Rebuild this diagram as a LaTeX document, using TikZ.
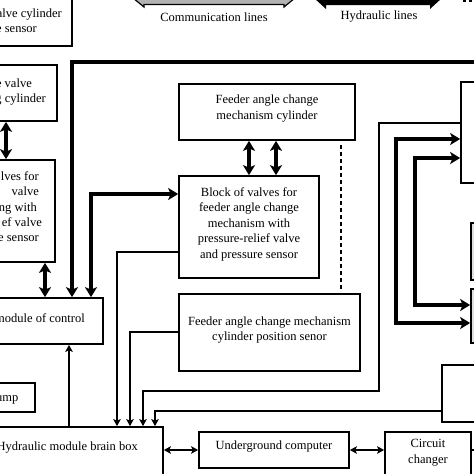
\documentclass[tikz,border=0pt]{standalone}
\usepackage{fontspec}
\setmainfont{Liberation Serif}
\usetikzlibrary{arrows.meta}
\newcommand\fz{\fontsize{12.5}{15.5}\selectfont}
\tikzset{
  hA/.tip={Stealth[length=10pt,width=12pt,inset=2.5pt]},
  tA/.tip={Stealth[length=7pt,width=7.5pt,inset=1.5pt]},
  box/.style={draw, line width=1.7pt, inner sep=0pt},
  gbox/.style={box, fill=gray!25},
  lbl/.style={font=\fz, align=center, inner sep=0pt},
  lblE/.style={lbl, anchor=base east},
  thk/.style={line width=3.4pt},
  thn/.style={line width=1.5pt},
}
\begin{document}
\begin{tikzpicture}[x=1pt,y=-1pt]
\useasboundingbox (0,0) rectangle (474,474);
\clip (0,0) rectangle (474,474);
% legend
\filldraw[fill=gray!60, draw=black, line width=1.2pt]
  (133,-2) -- (144,-11) -- (144,-8.5) -- (284,-8.5) -- (284,-11) -- (295,-2)
  -- (284,7) -- (284,4.5) -- (144,4.5) -- (144,7) -- cycle;
\node[lbl] (legC) at (214,17) {Communication lines};
\fill (314,-2) -- (326,-13) -- (326,-9) -- (430,-9) -- (430,-13) -- (442,-2)
  -- (430,9) -- (430,5) -- (326,5) -- (326,9) -- cycle;
\node[lbl] (legH) at (379,17) {Hydraulic lines};
\draw[line width=6pt, dash pattern=on 3pt off 2.5pt] (463,-1) -- (485,-1);

% boxes
\node[box, minimum width=152pt, minimum height=76pt] (b1) at (-4,8) {};
\node[lblE] at (62,17) {valve cylinder};
\node[lblE] at (37,32) {e sensor};

\node[box, minimum width=137pt, minimum height=56pt] (b4) at (-11.5,93) {};
\node[lblE] at (32,87) {e valve};
\node[lblE] at (46,102) {g cylinder};

\node[box, minimum width=135pt, minimum height=102pt] (b6) at (-12.5,211) {};
\node[lblE] at (39,180) {lves for};
\node[lblE] at (39,195) {valve};
\node[lblE] at (37,211) {ng with};
\node[lblE] at (42,226) {ef valve};
\node[lblE] at (39,241) {e sensor};

\node[box, minimum width=183pt, minimum height=46pt] (ctrl) at (11.5,321) {};
\node[lblE] at (85,322) {module of control};

\node[box, minimum width=75pt, minimum height=29pt] (pump) at (-2.5,397.5) {};
\node[lblE] at (18.5,401) {ump};

\node[box, minimum width=223pt, minimum height=63pt] (brain) at (51.5,458.5) {};
\node[lblE] at (138,450) {Hydraulic module brain box};

\node[box, minimum width=176pt, minimum height=56pt] (b9) at (267,112) {};
\node[lbl] at (267,108.5) {Feeder angle change\\mechanism cylinder};

\node[box, minimum width=140pt, minimum height=102pt] (b11) at (249,227) {};
\node[lbl] at (249,224) {Block of valves for\\feeder angle change\\mechanism with\\pressure-relief valve\\and pressure sensor};

\node[box, minimum width=181pt, minimum height=77pt] (b13) at (269.5,332.5) {};
\node[lbl] at (269.5,330) {Feeder angle change mechanism\\cylinder position senor};

\node[box, minimum width=150pt, minimum height=36pt] (under) at (274,450) {};
\node[lbl] at (274,447) {Underground computer};

\node[box, minimum width=86pt, minimum height=48pt] (circ) at (428,456) {};
\node[lbl] at (428,452.5) {Circuit\\changer};

\node[box, minimum width=79pt, minimum height=101pt] (tr) at (500.5,132.5) {};
\node[gbox, minimum width=69pt, minimum height=57pt] (g1) at (505.5,251.5) {};
\node[gbox, minimum width=69pt, minimum height=54pt] (g2) at (505.5,316) {};
\node[box, minimum width=98pt, minimum height=57pt] (rb) at (491,393.5) {};

% thick hydraulic connectors
\coordinate (topR) at (480,62);
\draw[thk, -hA] (topR) -| (ctrl.north -| 72,0);
\draw[thk, hA-hA] (ctrl.north -| 91,0) |- (b11.west |- 0,194);
\draw[thk, hA-hA] (b4.south -| 6,0) -- (b6.north -| 6,0);
\draw[thk, hA-hA] (b6.south -| 45,0) -- (ctrl.north -| 45,0);
\draw[thk, hA-hA] (b9.south -| 249,0) -- (b11.north -| 249,0);
\draw[thk, hA-hA] (b9.south -| 276,0) -- (b11.north -| 276,0);
\draw[thk, hA-hA] (g2.west |- 0,323) -| (396,139) -- (tr.west |- 0,139);
\draw[thk, hA-hA] (g2.west |- 0,305) -| (415,158) -- (tr.west |- 0,158);

% dashed
\draw[line width=2.4pt, dash pattern=on 4.5pt off 2.5pt, shorten <=4pt, shorten >=2pt]
  (b9.south -| 341,0) -- (b13.north -| 341,0);

% thin communication connectors
\draw[thn, -tA] (b11.west |- 0,252) -| (brain.north -| 117,0);
\draw[thn, -tA] (b13.west |- 0,332) -| (brain.north -| 130,0);
\draw[thn, -tA] (tr.west |- 0,123) -| (379,391) -| (brain.north -| 143,0);
\draw[thn, -tA] (rb.west |- 0,411) -| (brain.north -| 155,0);
\draw[thn, -tA] (brain.north -| 69,0) -- (ctrl.south -| 69,0);
\draw[thn, tA-tA] (brain.east |- under.west) -- (under.west);
\draw[thn, tA-tA] (under.east) -- (circ.west |- under.east);
\coordinate (circR) at (480,450);
\draw[thn] (circ.east |- circR) -- (circR);
\end{tikzpicture}
\end{document}
